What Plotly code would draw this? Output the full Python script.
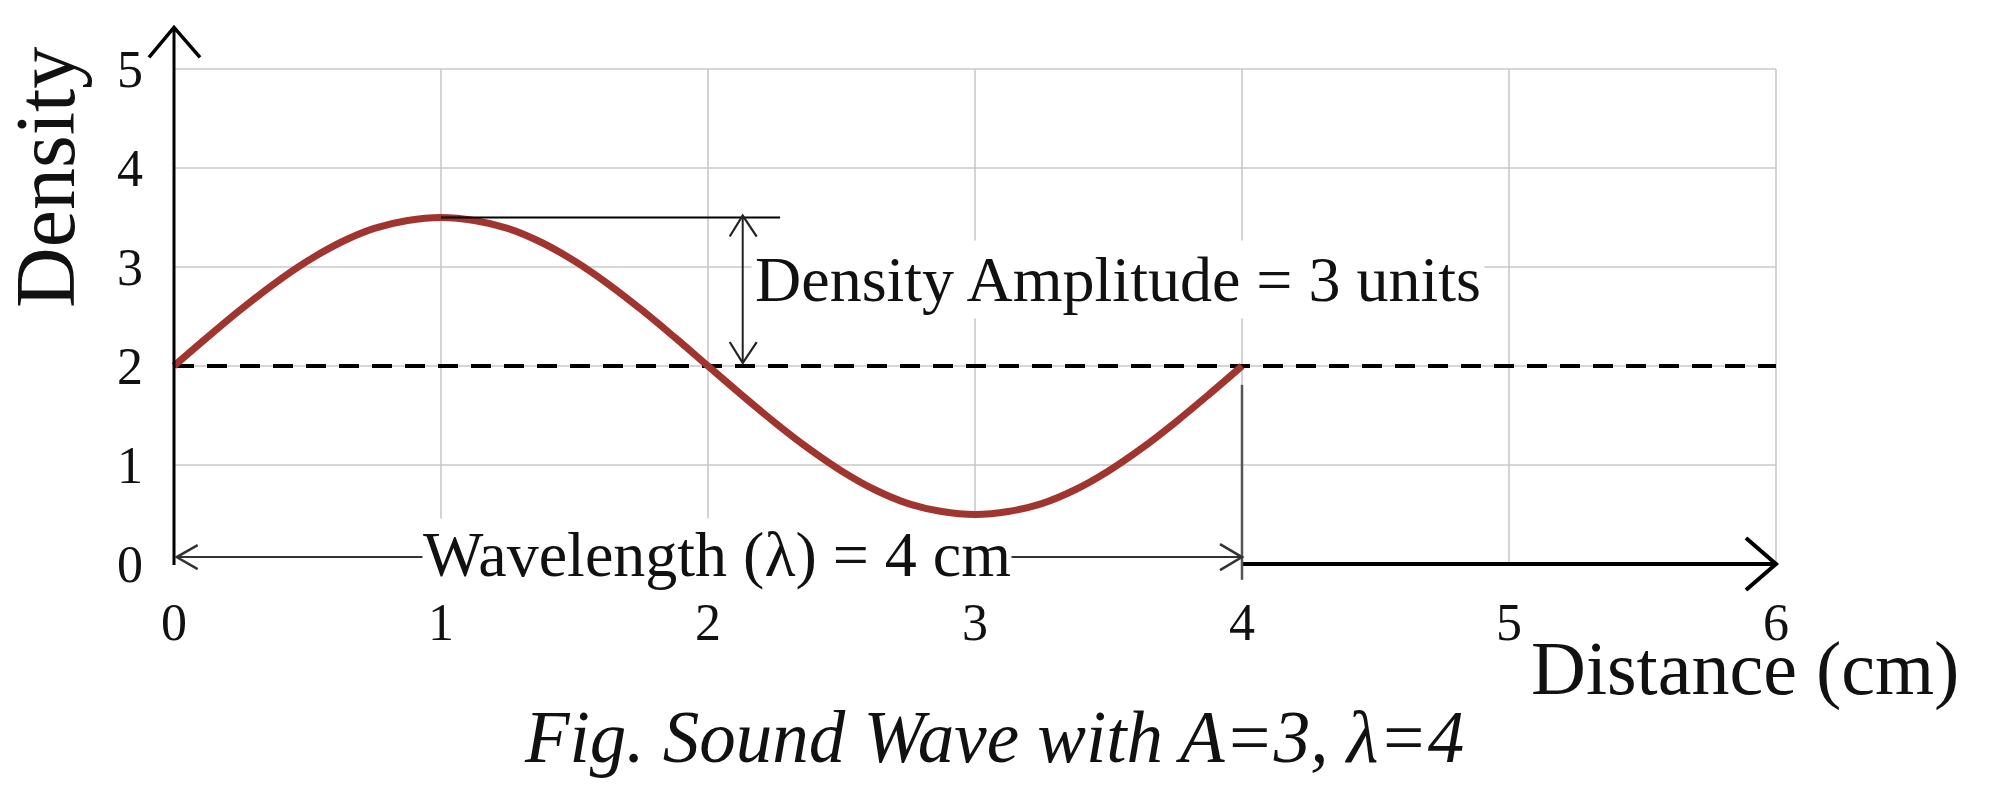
import plotly.graph_objects as go

# wave (cm -> density)
distance = [0, 0.125, 0.25, 0.375, 0.5, 0.625, 0.75, 0.875, 1,
            1.125, 1.25, 1.375, 1.5, 1.625, 1.75, 1.875, 2,
            2.125, 2.25, 2.375, 2.5, 2.625, 2.75, 2.875, 3,
            3.125, 3.25, 3.375, 3.5, 3.625, 3.75, 3.875, 4]
density = [2.0, 2.29, 2.57, 2.83, 3.06, 3.25, 3.39, 3.47, 3.5,
           3.47, 3.39, 3.25, 3.06, 2.83, 2.57, 2.29, 2.0,
           1.71, 1.43, 1.17, 0.94, 0.75, 0.61, 0.53, 0.5,
           0.53, 0.61, 0.75, 0.94, 1.17, 1.43, 1.71, 2.0]

x_ticks = [0, 1, 2, 3, 4, 5, 6]
y_ticks = [0, 1, 2, 3, 4, 5]
x_labels = [str(v) for v in x_ticks]
y_labels = [str(v) for v in y_ticks]

mean_density = 2
peak_density = 3.5
wavelength = 4

W, H = 1994, 786
ml, mr, mt, mb = 136, 204, 12, 196
ox, oy = 166, 556          # pixel of (0, 0) inside the figure
xu, yu = 267, 99           # pixels per unit
pw, ph = W - ml - mr, H - mt - mb
x_range = [-(ox - ml) / xu, (W - mr - ox) / xu]
y_range = [-(H - mb - oy) / yu, (oy - mt) / yu]


def px(fx):
    return (fx - ml) / pw


def py(fy):
    return (H - mb - fy) / ph


FONT = "Liberation Serif"
RED = "#a0342f"
GRID = "#c9c9c9"
INK = "#111111"

shapes = []


def seg(x0, y0, x1, y1, color="black", width=2, dash=None, layer="above"):
    shapes.append(dict(type="line", x0=x0, y0=y0, x1=x1, y1=y1, xref="x", yref="y",
                       layer=layer, line=dict(color=color, width=width, dash=dash)))


def chevron(x, y, a, b, width=2, color="black"):
    # open arrow head, arm ends given in pixels relative to the tip
    path = "M%g,%g L0,0 L%g,%g" % (a[0], a[1], b[0], b[1])
    shapes.append(dict(type="path", path=path, xref="x", yref="y",
                       xsizemode="pixel", ysizemode="pixel", xanchor=x, yanchor=y,
                       layer="above", fillcolor="rgba(0,0,0,0)",
                       line=dict(color=color, width=width)))


# grid
for xv in x_ticks[1:]:
    seg(xv, 0, xv, y_ticks[-1], GRID, 1.6, layer="below")
for yv in y_ticks[1:]:
    seg(0, yv, x_ticks[-1], yv, GRID, 1.6, layer="below")

# equilibrium line
seg(0, mean_density, x_ticks[-1], mean_density, "black", 4, dash="20px,13px", layer="below")

# y axis with arrow
seg(0, -0.01, 0, 5.42, "black", 3)
chevron(0, 5.42, (-25, -30), (26, -30), 3.5)

# x axis from end of wavelength to 6
seg(wavelength, 0, x_ticks[-1], 0, "black", 4)
chevron(x_ticks[-1], 0, (-30, 26), (-30, -26), 4)

# wavelength marker
seg(wavelength, 1.81, wavelength, -0.16, "#555555", 2.5)
seg(0.01, 0.07, wavelength, 0.07, "#333333", 2)
chevron(0.01, 0.07, (21, 12), (21, -12), 2.5, "#333333")
chevron(wavelength, 0.07, (-22, 13), (-22, -13), 2.5, "#333333")

# amplitude marker
seg(1, peak_density, 2.27, peak_density, "black", 2)
seg(2.13, 2.03, 2.13, 3.52, "#222222", 2)
chevron(2.13, 3.52, (-13, -21), (14, -21), 2.2, "#222222")
chevron(2.13, 2.03, (-13, 21), (14, 21), 2.2, "#222222")

fig = go.Figure()
fig.add_trace(go.Scatter(x=distance, y=density, mode="lines", line_shape="spline",
                         line=dict(color=RED, width=7), hoverinfo="skip", showlegend=False))

annotations = [
    dict(x=2.035, y=0.1, text="Wavelength (\u03bb) = 4 cm", showarrow=False,
         font=dict(family=FONT, size=64, color=INK), bgcolor="white", borderpad=0,
         xanchor="center", yanchor="middle"),
    dict(x=2.16, y=2.87, text="Density Amplitude = 3 units", showarrow=False,
         font=dict(family=FONT, size=64, color=INK), bgcolor="white", borderpad=3,
         xanchor="left", yanchor="middle"),
    dict(x=px(1737), y=py(660), xref="paper", yref="paper", text="Distance (cm)",
         showarrow=False, font=dict(family=FONT, size=76, color=INK),
         xanchor="center", yanchor="middle"),
    dict(x=px(38), y=py(170), xref="paper", yref="paper", text="Density", textangle=-90,
         showarrow=False, font=dict(family=FONT, size=84, color=INK),
         xanchor="center", yanchor="middle"),
    dict(x=px(986), y=py(729), xref="paper", yref="paper",
         text="<i>Fig. Sound Wave with A=3, \u03bb=4</i>", showarrow=False,
         font=dict(family=FONT, size=73, color=INK), xanchor="center", yanchor="middle"),
]

fig.update_layout(
    width=W, height=H,
    margin=dict(l=ml, r=mr, t=mt, b=mb, pad=0),
    paper_bgcolor="white", plot_bgcolor="white",
    shapes=shapes, annotations=annotations,
    xaxis=dict(range=x_range, showgrid=False, zeroline=False, showline=False,
               tickvals=x_ticks, ticktext=x_labels, ticks="", ticklabelstandoff=-11,
               tickfont=dict(family=FONT, size=52, color=INK)),
    yaxis=dict(range=y_range, showgrid=False, zeroline=False, showline=False,
               tickvals=y_ticks, ticktext=y_labels, ticks="", ticklabelstandoff=0,
               tickfont=dict(family=FONT, size=52, color=INK)),
)

fig.write_html("out.html")
